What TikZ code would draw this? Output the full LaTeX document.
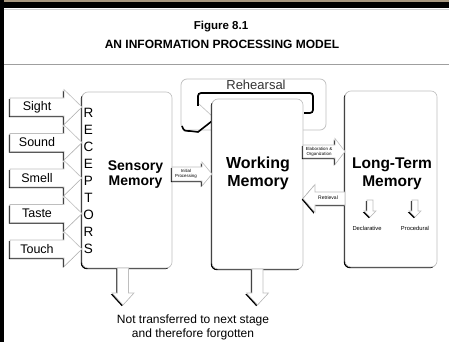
\documentclass[tikz,border=0pt]{standalone}
\usepackage{fontspec}
\setmainfont{Liberation Sans}
\usetikzlibrary{shadows}
\definecolor{framebrown}{RGB}{168,152,128}
\definecolor{edgegray}{RGB}{190,190,190}
\newcommand{\RArrow}[6]{%
  \draw[blk] (#1,#3-#4) -- (#2-#6,#3-#4) -- (#2-#6,#3-#5) -- (#2,#3) -- (#2-#6,#3+#5) -- (#2-#6,#3+#4) -- (#1,#3+#4) -- cycle;}
\newcommand{\LArrow}[6]{%
  \draw[blk] (#1,#3-#4) -- (#2+#6,#3-#4) -- (#2+#6,#3-#5) -- (#2,#3) -- (#2+#6,#3+#5) -- (#2+#6,#3+#4) -- (#1,#3+#4) -- cycle;}
\newcommand{\DArrow}[6]{%
  \draw[blk] (#1-#4,#2) -- (#1-#4,#3-#6) -- (#1-#5,#3-#6) -- (#1,#3) -- (#1+#5,#3-#6) -- (#1+#4,#3-#6) -- (#1+#4,#2) -- cycle;}
\begin{document}
\begin{tikzpicture}[x=1pt,y=-1pt,
  blk/.style={draw=edgegray, line width=0.6pt, fill=white,
    drop shadow={shadow xshift=-1.2pt, shadow yshift=-1.2pt, fill=black, opacity=1}},
  membox/.style={blk, rounded corners=6pt, inner sep=0pt},
  bigbf/.style={font=\bfseries\fontsize{15}{17.5}\selectfont, align=center},
  sensefont/.style={font=\fontsize{12.5}{14}\selectfont},
  tinyfont/.style={font=\fontsize{4.4}{5}\selectfont, align=center}]
\useasboundingbox (0,0) rectangle (449,342);
\fill[white] (0,0) rectangle (449,342);
% frame
\fill[black] (0,0) rectangle (449,8.5);
\fill[framebrown] (0,0) rectangle (449,1.8);
\fill[black] (0,0) rectangle (3.8,342);
\draw[gray!35, line width=0.8pt] (3.8,9.4) -- (449,9.4);
\draw[gray!75, line width=1pt] (3.8,65) -- (449,65);
% title
\node[anchor=base, font=\bfseries\fontsize{11.5}{13}\selectfont] (fig) at (221,29.3) {Figure 8.1};
\node[anchor=base, font=\bfseries\fontsize{12}{14}\selectfont] (ttl) at (222,48.3) {AN INFORMATION PROCESSING MODEL};
% rehearsal
\draw[edgegray, line width=0.7pt, rounded corners=6pt] (181,79) rectangle (326,130);
\node[anchor=base, font=\fontsize{13}{15}\selectfont, text=black!80] (reh) at (256,90) {Rehearsal};
\draw[black, line width=1.7pt, rounded corners=3pt] (304,113) -- (313,113) -- (313,93) -- (198,93) -- (198,106);
\draw[edgegray, line width=0.6pt] (199,104) -- (212,116);
\draw[black, line width=1.6pt] (182,126) .. controls (184,131) .. (190,131) -- (198,132) -- (212,121);
% memory boxes
\node[membox, minimum width=90pt, minimum height=176pt] (sens) at (127,180) {};
\node[membox, minimum width=91pt, minimum height=170pt] (work) at (257.5,184) {};
\node[membox, minimum width=92pt, minimum height=176pt] (ltm) at (391,179) {};
% senses
\foreach \y/\t in {107/Sight,142.5/Sound,178/Smell,213.5/Taste,249/Touch}{
  \RArrow{10}{82}{\y}{9}{17.5}{18}
  \node[sensefont] (s-\t) at (37,\y) {\t};
}
\node[font=\fontsize{13.5}{17.1}\selectfont, align=center] (rec) at (88.5,181) {R\\E\\C\\E\\P\\T\\O\\R\\S};
% labels
\node[bigbf, font=\bfseries\fontsize{14}{15}\selectfont] (senst) at (135.5,175) {Sensory\\Memory};
\node[bigbf, font=\bfseries\fontsize{16}{18}\selectfont] (workt) at (258,173.5) {Working\\Memory};
\node[bigbf, font=\bfseries\fontsize{15.5}{18}\selectfont] (ltmt) at (392,173.5) {Long-Term\\Memory};
% connecting arrows
\RArrow{172}{212}{174}{7}{12}{10}
\node[tinyfont] (ip) at (186,174) {Initial\\Processing};
\RArrow{303}{345}{151.5}{6.5}{13}{10}
\node[tinyfont] (eo) at (319,151.5) {Elaboration \&\\Organization};
\LArrow{345}{303}{198.5}{6.5}{14}{12}
\node[font=\fontsize{5}{6}\selectfont] (ret) at (328,197.5) {Retrieval};
% down arrows
\DArrow{123}{268}{305}{5.5}{11}{12}
\DArrow{257.5}{269}{305}{5.5}{11}{12}
\DArrow{370}{200}{217}{3}{6}{6}
\DArrow{415}{200}{217}{3}{6}{6}
\node[font=\fontsize{5.8}{7}\selectfont] (decl) at (367,228) {Declarative};
\node[font=\fontsize{5.8}{7}\selectfont] (proc) at (415,228) {Procedural};
\node[align=center, font=\fontsize{12}{14}\selectfont] (forg) at (193,327) {Not transferred to next stage\\and therefore forgotten};
\end{tikzpicture}
\end{document}
